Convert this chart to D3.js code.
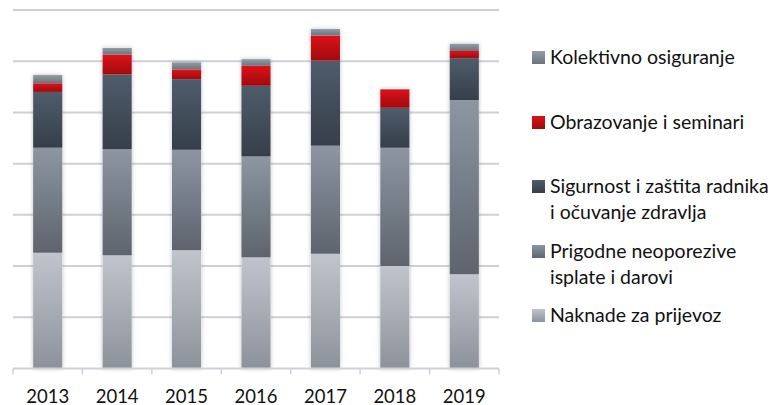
<!DOCTYPE html>
<html>
<head>
<meta charset="utf-8">
<script src="https://cdn.jsdelivr.net/npm/d3@7"></script>
<style>
  body { margin: 0; background: #fff; }
  svg { display: block; font-family: Lato, "Open Sans", sans-serif; }
</style>
</head>
<body>
<svg id="chart" width="780" height="405"></svg>
<script>
// Data (arbitrary units, one gridline = 10)
var years = ["2013", "2014", "2015", "2016", "2017", "2018", "2019"];
var naknade     = [22.6, 22.1, 23.1, 21.7, 22.4, 20.0, 18.4];
var prigodne    = [20.5, 20.7, 19.6, 19.7, 21.1, 23.1, 34.0];
var sigurnost   = [10.9, 14.6, 13.8, 13.8, 16.6, 7.8, 8.2];
var obrazovanje = [1.7, 3.9, 1.9, 3.9, 4.9, 3.6, 1.4];
var kolektivno  = [1.6, 1.3, 1.4, 1.3, 1.3, 0.1, 1.4];
var gridTicks = [10, 20, 30, 40, 50, 60, 70];

// series bottom to top
var series = [
    { key: "nak", name: ["Naknade za prijevoz"], values: naknade, top: "#c0c5cd", bottom: "#8c929b" },
    { key: "pri", name: ["Prigodne neoporezive", "isplate i darovi"], values: prigodne, top: "#8d96a1", bottom: "#5d646e" },
    { key: "sig", name: ["Sigurnost i zaštita radnika", "i očuvanje zdravlja"], values: sigurnost, top: "#4e5c6c", bottom: "#363f49" },
    { key: "obr", name: ["Obrazovanje i seminari"], values: obrazovanje, top: "#dc1218", bottom: "#a00a0e" },
    { key: "kol", name: ["Kolektivno osiguranje"], values: kolektivno, top: "#939ca7", bottom: "#6b737d" }
];

var svg = d3.select("#chart");
var plotLeft = 13, plotRight = 499, plotTop = 10, baseY = 368.5;

var x = d3.scaleBand()
    .domain(years)
    .range([plotLeft, plotRight])
    .paddingInner(0.58)
    .paddingOuter(0.29);

var y = d3.scaleLinear()
    .domain([0, 70])
    .range([baseY, plotTop]);

// gradients and shadow
var defs = svg.append("defs");
series.forEach(function (s) {
    var g = defs.append("linearGradient")
        .attr("id", "grad-" + s.key)
        .attr("x1", 0).attr("y1", 0).attr("x2", 0).attr("y2", 1);
    g.append("stop").attr("offset", "0%").attr("stop-color", s.top);
    g.append("stop").attr("offset", "100%").attr("stop-color", s.bottom);
});
var shadow = defs.append("filter").attr("id", "shadow")
    .attr("x", "-50%").attr("y", "-10%").attr("width", "200%").attr("height", "120%");
shadow.append("feDropShadow")
    .attr("dx", 0).attr("dy", 0)
    .attr("stdDeviation", 2.2)
    .attr("flood-color", "#000")
    .attr("flood-opacity", 0.25);

// gridlines
svg.append("g")
    .selectAll("line")
    .data(gridTicks)
    .enter().append("line")
    .attr("x1", plotLeft).attr("x2", plotRight)
    .attr("y1", function (d) { return y(d); })
    .attr("y2", function (d) { return y(d); })
    .attr("stroke", "#cfd1d7")
    .attr("stroke-width", 2);

// stacked bars
var stackData = years.map(function (yr, i) {
    var row = { year: yr };
    series.forEach(function (s) { row[s.key] = s.values[i]; });
    return row;
});
var stacked = d3.stack().keys(series.map(function (s) { return s.key; }))(stackData);
var lastLayer = stacked[stacked.length - 1];

var barsG = svg.append("g");
// shadow layer behind whole bars
barsG.selectAll("rect.shadow")
    .data(stackData)
    .enter().append("rect")
    .attr("class", "shadow")
    .attr("x", function (d) { return x(d.year); })
    .attr("width", x.bandwidth())
    .attr("y", function (d, i) { return y(lastLayer[i][1]); })
    .attr("height", function (d, i) { return baseY - y(lastLayer[i][1]); })
    .attr("fill", "#fff")
    .attr("filter", "url(#shadow)");

barsG.selectAll("g.layer")
    .data(stacked)
    .enter().append("g")
    .attr("class", "layer")
    .attr("fill", function (d) { return "url(#grad-" + d.key + ")"; })
    .selectAll("rect")
    .data(function (d) { return d; })
    .enter().append("rect")
    .attr("x", function (d) { return x(d.data.year); })
    .attr("width", x.bandwidth())
    .attr("y", function (d) { return y(d[1]); })
    .attr("height", function (d) { return y(d[0]) - y(d[1]); });

// x axis: baseline with ticks at category boundaries
var axisG = svg.append("g");
axisG.append("line")
    .attr("x1", plotLeft).attr("x2", plotRight)
    .attr("y1", baseY).attr("y2", baseY)
    .attr("stroke", "#cfd1d7").attr("stroke-width", 2);
var bounds = d3.range(years.length + 1).map(function (i) { return plotLeft + i * x.step(); });
axisG.selectAll("line.tick")
    .data(bounds)
    .enter().append("line")
    .attr("class", "tick")
    .attr("x1", function (d) { return d; }).attr("x2", function (d) { return d; })
    .attr("y1", baseY).attr("y2", baseY + 6)
    .attr("stroke", "#cfd1d7").attr("stroke-width", 1.5);
axisG.selectAll("text")
    .data(years)
    .enter().append("text")
    .attr("x", function (d) { return x(d) + x.bandwidth() / 2; })
    .attr("y", 402.5)
    .attr("text-anchor", "middle")
    .attr("font-size", 18.5)
    .attr("fill", "#111")
    .text(function (d) { return d; });

// legend, top to bottom
var legendRows = [
    { s: series[4], y: 57 },
    { s: series[3], y: 122 },
    { s: series[2], y: 186 },
    { s: series[1], y: 251 },
    { s: series[0], y: 315 }
];
var legend = svg.append("g").selectAll("g")
    .data(legendRows)
    .enter().append("g")
    .attr("transform", function (d) { return "translate(532," + d.y + ")"; });
legend.append("rect")
    .attr("x", 0).attr("y", -6)
    .attr("width", 13).attr("height", 13)
    .attr("fill", function (d) { return "url(#grad-" + d.s.key + ")"; });
legend.append("text")
    .attr("x", 18)
    .attr("y", 7)
    .attr("font-size", 19.5)
    .attr("fill", "#111")
    .selectAll("tspan")
    .data(function (d) { return d.s.name; })
    .enter().append("tspan")
    .attr("x", 18)
    .attr("dy", function (d, i) { return i === 0 ? 0 : 25.7; })
    .text(function (d) { return d; });
</script>
</body>
</html>
